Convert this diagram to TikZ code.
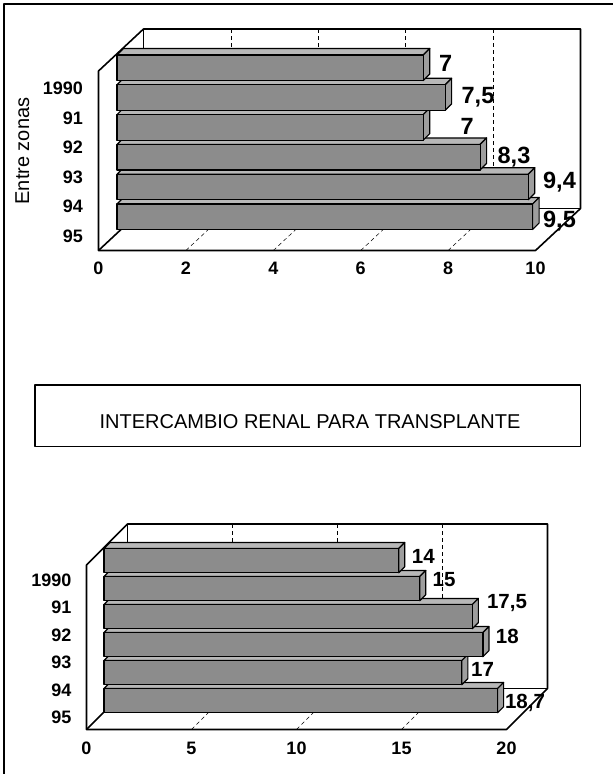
\documentclass[tikz,border=0pt]{standalone}
\usepackage{fontspec}
\setmainfont{Liberation Sans}
\begin{document}
\begin{tikzpicture}[x=1pt,y=-1pt,
  marco/.style={line width=1.6pt,line join=round},
  rejilla/.style={line width=0.5pt,dash pattern=on 4pt off 3pt},
  cara/.style={draw=black,line width=1.2pt,line join=round,fill=black!45},
  techo/.style={cara,fill=black!28},
  punta/.style={cara,fill=black!38},
  anio/.style={anchor=east,font=\fontsize{18}{20}\selectfont\bfseries},
  eje/.style={font=\fontsize{18}{20}\selectfont\bfseries},
  valor/.style={font=\fontsize{23.5}{25}\selectfont\bfseries},
  valorb/.style={font=\fontsize{20.5}{22}\selectfont\bfseries}]
\useasboundingbox (0,0) rectangle (613,774);
\draw[marco] (4,774) -- (4,4) -- (613,4);

\foreach \k in {1,...,4} {
  \draw[rejilla] (143.5+87.4*\k,29) -- (143.5+87.4*\k,208.5);
  \draw[rejilla] (98.5+87.4*\k,250.5) -- (143.5+87.4*\k,208.5);
}
\draw[marco] (98.5,250.5) -- (98.5,71) -- (143.5,29) -- (580.5,29) -- (580.5,208.5) -- (535.5,250.5) -- cycle;
\draw[marco] (143.5,29) -- (143.5,208.5) -- (580.5,208.5);
\draw[marco] (98.5,250.5) -- (143.5,208.5);
\foreach \i/\v in {5/9.5,4/9.4,3/8.3,2/7,1/7.5,0/7} {
  \pgfmathsetmacro\yt{55+29.8*\i}
  \pgfmathsetmacro\xe{117+43.75*\v}
  \draw[techo] (117,\yt) -- ++(6.5,-6.5) -- (\xe+6.5,\yt-6.5) -- (\xe,\yt) -- cycle;
  \draw[punta] (\xe,\yt) -- (\xe+6.5,\yt-6.5) -- (\xe+6.5,\yt+19) -- (\xe,\yt+25.5) -- cycle;
  \draw[cara] (117,\yt) rectangle (\xe,\yt+25.5);
}
\foreach \i/\x/\y/\t in {0/445.7/63.3/7, 1/478/97.7/{7,5}, 2/467.2/126.7/7, 3/514/156.7/{8,3}, 4/559.5/181.7/{9,4}, 5/559.5/221.5/{9,5}}
  \node[valor] (vz\i) at (\x,\y) {\t};
\foreach \t [count=\i from 0] in {1990,91,92,93,94,95}
  \node[anio] (az\i) at (86.5,88.3+29.6*\i) {\t};
\foreach \t [count=\k from 0] in {0,2,4,6,8,10}
  \node[eje] (ez\k) at (98.5+87.4*\k,268) {\t};
\node[rotate=90,font=\fontsize{20}{22}\selectfont] (entre) at (22.3,151) {Entre zonas};

\draw[marco] (35,385) rectangle (580.5,446.5);
\node[font=\fontsize{20}{22}\selectfont] (titulo) at (310,421.7) {INTERCAMBIO RENAL PARA TRANSPLANTE};

\foreach \k in {1,...,3} {
  \draw[rejilla] (127.5+105*\k,524) -- (127.5+105*\k,688.5);
  \draw[rejilla] (86.5+105*\k,729.5) -- (127.5+105*\k,688.5);
}
\draw[marco] (86.5,729.5) -- (86.5,565) -- (127.5,524) -- (547.5,524) -- (547.5,688.5) -- (506.5,729.5) -- cycle;
\draw[marco] (127.5,524) -- (127.5,688.5) -- (547.5,688.5);
\draw[marco] (86.5,729.5) -- (127.5,688.5);
\foreach \i/\v in {5/18.7,4/17,3/18,2/17.5,1/15,0/14} {
  \pgfmathsetmacro\yt{548.5+28*\i}
  \pgfmathsetmacro\xe{104+21.05*\v}
  \draw[techo] (104,\yt) -- ++(6,-6) -- (\xe+6,\yt-6) -- (\xe,\yt) -- cycle;
  \draw[punta] (\xe,\yt) -- (\xe+6,\yt-6) -- (\xe+6,\yt+18.2) -- (\xe,\yt+24.2) -- cycle;
  \draw[cara] (104,\yt) rectangle (\xe,\yt+24.2);
}
\foreach \i/\x/\y/\t in {0/423.3/556.7/14, 1/444/580/15, 2/507/602.7/{17,5}, 3/507.3/636/18, 4/482.5/669.3/17, 5/525/702.7/{18,7}}
  \node[valorb] (vr\i) at (\x,\y) {\t};
\foreach \t [count=\i from 0] in {1990,91,92,93,94,95}
  \node[anio] (ar\i) at (75,580+27.5*\i) {\t};
\foreach \t [count=\k from 0] in {0,5,10,15,20}
  \node[eje] (er\k) at (86.5+105*\k,748) {\t};
\end{tikzpicture}
\end{document}
